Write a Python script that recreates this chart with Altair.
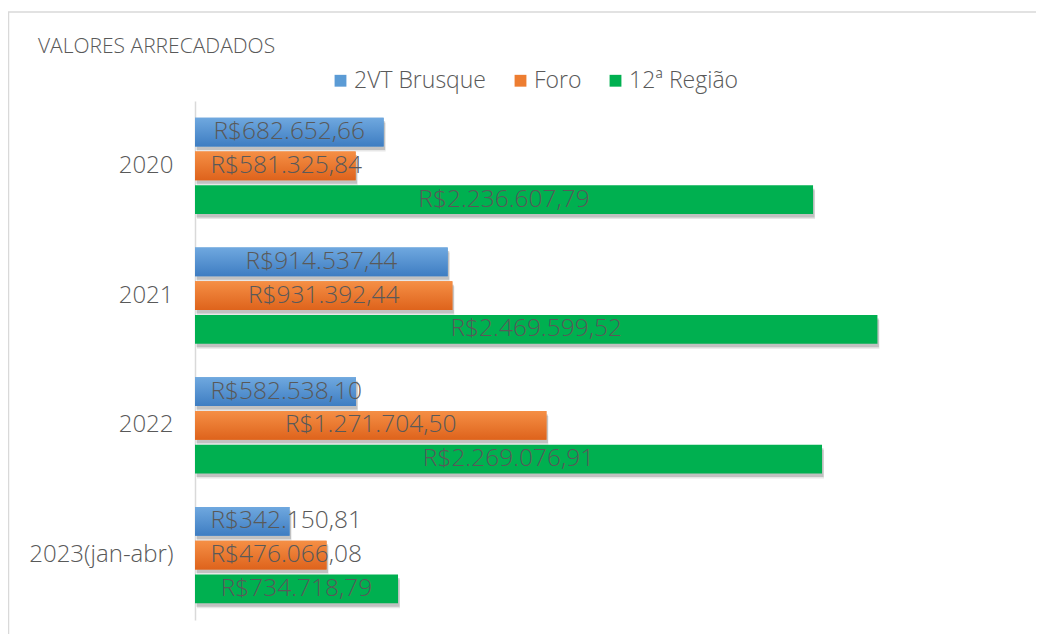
import altair as alt
import pandas as pd

anos = ["2020", "2021", "2022", "2023(jan-abr)"]
series = ["2VT Brusque", "Foro", "12ª Região"]
brusque = [682652.66, 914537.44, 582538.10, 342150.81]
foro = [581325.84, 931392.44, 1271704.50, 476066.08]
regiao = [2236607.79, 2469599.52, 2269076.91, 734718.79]
cores = ["#5B9BD5", "#ED7D31", "#00B050"]


def brl(v):
    s = f"{v:,.2f}"
    s = s.replace(",", "X").replace(".", ",").replace("X", ".")
    return "R$" + s


rows = []
for i, ano in enumerate(anos):
    for serie, vals in zip(series, [brusque, foro, regiao]):
        v = vals[i]
        rows.append({
            "ano": ano,
            "serie": serie,
            "valor": v,
            "rotulo": brl(v),
            # Excel keeps the centered label inside the plot area
            "pos": max(v / 2, 330000),
        })
df = pd.DataFrame(rows)

W, H = 829, 519
FONT = "Open Sans"
GRAY = "#595959"

xsc = alt.Scale(domain=[0, 3000000])
ysc = alt.Scale(type="band", domain=anos, paddingInner=0.26, paddingOuter=0.13)
BAND = H / 4.0 * 0.74
osc = alt.Scale(type="band", domain=series, paddingInner=0.15, paddingOuter=0,
                range=[0, BAND])


def base_chart(off_scale):
    return alt.Chart(df).encode(
        y=alt.Y("ano:N", sort=anos, scale=ysc, title=None,
                axis=alt.Axis(domainColor="#d9d9d9", domainWidth=1.5, ticks=False,
                              labelFontSize=24, labelColor=GRAY, labelFont=FONT,
                              labelFontWeight=300, labelPadding=22, grid=False)),
        yOffset=alt.YOffset("serie:N", sort=series, scale=off_scale),
    )


base = base_chart(osc)


def shadow(dx, dy, op):
    sc = alt.Scale(type="band", domain=series, paddingInner=0.15, paddingOuter=0,
                   range=[dy, BAND + dy])
    return base_chart(sc).mark_bar(color="#3a3a3a", opacity=op, xOffset=dx).encode(
        x=alt.X("valor:Q", scale=xsc, axis=None)
    )


sh1 = shadow(2, 5, 0.12)
sh2 = shadow(1.5, 3.5, 0.22)

bars = base.mark_bar().encode(
    x=alt.X("valor:Q", scale=xsc, axis=None),
    color=alt.Color("serie:N", scale=alt.Scale(domain=series, range=cores),
                    legend=alt.Legend(title=None, orient="none", legendX=134, legendY=-32,
                                      direction="horizontal", symbolType="square",
                                      symbolSize=140, labelFontSize=23, labelColor=GRAY,
                                      labelFont=FONT, labelFontWeight=300,
                                      columnPadding=22, labelOffset=2,
                                      symbolStrokeWidth=0)),
)

blue_grad = alt.Gradient(gradient="linear", x1=0, x2=0, y1=0, y2=1,
                         stops=[alt.GradientStop(color="#6FA8DF", offset=0),
                                alt.GradientStop(color="#3E7DC2", offset=1)])
orange_grad = alt.Gradient(gradient="linear", x1=0, x2=0, y1=0, y2=1,
                           stops=[alt.GradientStop(color="#F58F45", offset=0),
                                  alt.GradientStop(color="#DE631C", offset=1)])

blue = base.mark_bar(color=blue_grad).encode(
    x=alt.X("valor:Q", scale=xsc, axis=None)
).transform_filter(alt.datum.serie == series[0])
orange = base.mark_bar(color=orange_grad).encode(
    x=alt.X("valor:Q", scale=xsc, axis=None)
).transform_filter(alt.datum.serie == series[1])

labels = base.mark_text(fontSize=24.5, color=GRAY, font=FONT, fontWeight=300,
                        baseline="middle", align="center").encode(
    x=alt.X("pos:Q", scale=xsc, axis=None),
    text="rotulo:N",
)

one = alt.Chart(pd.DataFrame({"t": ["VALORES ARRECADADOS"]}))
title = one.mark_text(align="left", baseline="middle", fontSize=21, color=GRAY,
                      font=FONT, fontWeight=300).encode(
    x=alt.value(-157), y=alt.value(-54), text="t:N")
border_top = one.mark_rule(color="#d9d9d9", strokeWidth=1.5).encode(
    x=alt.value(-187), x2=alt.value(W + 20), y=alt.value(-89))
border_left = one.mark_rule(color="#d9d9d9", strokeWidth=1.5).encode(
    x=alt.value(-186.5), y=alt.value(-89), y2=alt.value(H + 20))

chart = alt.layer(
    border_top, border_left, sh1, sh2, bars, blue, orange, labels, title
).resolve_scale(yOffset="independent").properties(
    width=W, height=H,
    autosize=alt.AutoSizeParams(type="none"),
    padding={"left": 187, "top": 93, "right": 12, "bottom": 14},
).configure(background="white").configure_view(stroke=None)

chart.save("out.html", embed_options={"renderer": "svg", "actions": False})
